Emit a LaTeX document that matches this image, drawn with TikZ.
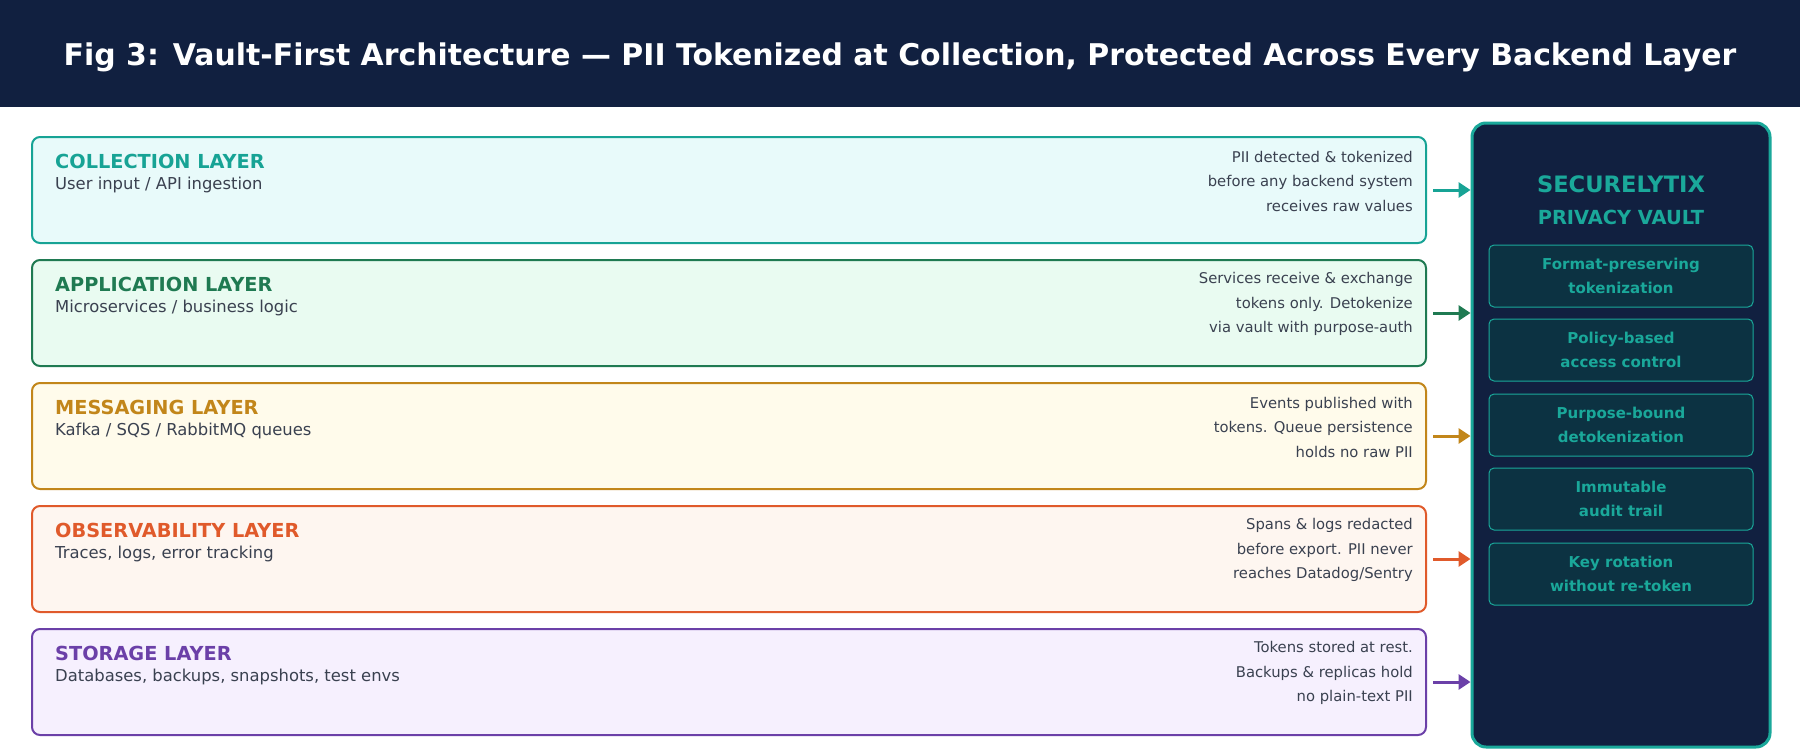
\documentclass[tikz,border=0pt]{standalone}
\usepackage{fontspec}
\setmainfont{DejaVu Sans}
\usetikzlibrary{arrows.meta}

\definecolor{navy}{HTML}{112040}
\definecolor{bodytext}{HTML}{3A4150}
\definecolor{collect}{HTML}{17A395}
\definecolor{collectbg}{HTML}{E8FAFA}
\definecolor{appl}{HTML}{1F7A52}
\definecolor{applbg}{HTML}{E9FBF1}
\definecolor{msg}{HTML}{C2861A}
\definecolor{msgbg}{HTML}{FFFBEB}
\definecolor{obs}{HTML}{E05A2B}
\definecolor{obsbg}{HTML}{FEF6F0}
\definecolor{store}{HTML}{6B40A8}
\definecolor{storebg}{HTML}{F6F0FE}
\definecolor{vaultteal}{HTML}{1AA89A}
\definecolor{featbg}{HTML}{0C3242}

\tikzset{
  layerbox/.style={draw=#1, line width=2pt, rounded corners=8pt,
    minimum width=1394pt, minimum height=106pt, inner sep=0pt},
  layertitle/.style={anchor=west, text=#1, font=\fontsize{19.3}{22}\selectfont\bfseries,
    inner sep=0pt, text height=14pt, text depth=0pt},
  layersub/.style={anchor=west, text=bodytext, font=\fontsize{16.4}{19}\selectfont,
    inner sep=0pt, text height=12pt, text depth=3pt},
  layernote/.style={anchor=east, align=right, text=bodytext,
    font=\fontsize{14.8}{24.5}\selectfont, inner sep=0pt},
  feedarrow/.style={draw=#1, line width=3pt, -{Triangle[length=12pt,width=15pt]}},
  featbox/.style={draw=vaultteal, fill=featbg, line width=1pt, rounded corners=5pt,
    minimum width=264pt, minimum height=62pt, align=center, text=vaultteal,
    font=\fontsize{15}{24}\selectfont\bfseries, inner sep=0pt}
}

\begin{document}
\begin{tikzpicture}[x=1pt, y=-1pt]

    % Canvas and title bar
    \fill[white] (0,0) rectangle (1800,750);
    \fill[navy] (0,0) rectangle (1800,107);
    \node[text=white, font=\fontsize{29.9}{34}\selectfont\bfseries] (title) at (900,57)
        {Fig 3: Vault-First Architecture — PII Tokenized at Collection, Protected Across Every Backend Layer};

    % Vault on the right
    \node[draw=vaultteal, fill=navy, line width=3pt, rounded corners=14pt,
        minimum width=298pt, minimum height=624pt, inner sep=0pt] (vault) at (1621,435) {};
    \node[text=vaultteal, font=\fontsize{22.6}{26}\selectfont\bfseries] (vaultname) at (1621,184) {SECURELYTIX};
    \node[text=vaultteal, font=\fontsize{19.4}{22}\selectfont\bfseries] (vaultsub) at (1621,217) {PRIVACY VAULT};

    % Vault features
    \node[featbox] (fpe) at (1621,276) {Format-preserving\\tokenization};
    \node[featbox] (policy) at (1621,350) {Policy-based\\access control};
    \node[featbox] (purpose) at (1621,425) {Purpose-bound\\detokenization};
    \node[featbox] (audit) at (1621,499) {Immutable\\audit trail};
    \node[featbox] (keyrot) at (1621,574) {Key rotation\\without re-token};

    % Collection layer
    \node[layerbox=collect, fill=collectbg] (collection) at (729,190) {};
    \node[layertitle=collect] (collectionT) at (55,161) {COLLECTION LAYER};
    \node[layersub] (collectionS) at (55,185) {User input / API ingestion};
    \node[layernote] (collectionN) at (1413,181) {PII detected \& tokenized\\before any backend system\\receives raw values};

    % Application layer
    \node[layerbox=appl, fill=applbg] (application) at (729,313) {};
    \node[layertitle=appl] (applicationT) at (55,284) {APPLICATION LAYER};
    \node[layersub] (applicationS) at (55,308) {Microservices / business logic};
    \node[layernote] (applicationN) at (1413,304) {Services receive \& exchange\\tokens only. Detokenize\\via vault with purpose-auth};

    % Messaging layer
    \node[layerbox=msg, fill=msgbg] (messaging) at (729,436) {};
    \node[layertitle=msg] (messagingT) at (55,407) {MESSAGING LAYER};
    \node[layersub] (messagingS) at (55,431) {Kafka / SQS / RabbitMQ queues};
    \node[layernote] (messagingN) at (1413,427) {Events published with\\tokens. Queue persistence\\holds no raw PII};

    % Observability layer
    \node[layerbox=obs, fill=obsbg] (observability) at (729,559) {};
    \node[layertitle=obs] (observabilityT) at (55,530) {OBSERVABILITY LAYER};
    \node[layersub] (observabilityS) at (55,554) {Traces, logs, error tracking};
    \node[layernote] (observabilityN) at (1413,550) {Spans \& logs redacted\\before export. PII never\\reaches Datadog/Sentry};

    % Storage layer
    \node[layerbox=store, fill=storebg] (storage) at (729,682) {};
    \node[layertitle=store] (storageT) at (55,653) {STORAGE LAYER};
    \node[layersub] (storageS) at (55,677) {Databases, backups, snapshots, test envs};
    \node[layernote] (storageN) at (1413,673) {Tokens stored at rest.\\Backups \& replicas hold\\no plain-text PII};

    % Arrows into the vault
    \draw[feedarrow=collect] ([xshift=6pt]collection.east) -- (collection.east -| vault.west);
    \draw[feedarrow=appl] ([xshift=6pt]application.east) -- (application.east -| vault.west);
    \draw[feedarrow=msg] ([xshift=6pt]messaging.east) -- (messaging.east -| vault.west);
    \draw[feedarrow=obs] ([xshift=6pt]observability.east) -- (observability.east -| vault.west);
    \draw[feedarrow=store] ([xshift=6pt]storage.east) -- (storage.east -| vault.west);

\end{tikzpicture}
\end{document}
